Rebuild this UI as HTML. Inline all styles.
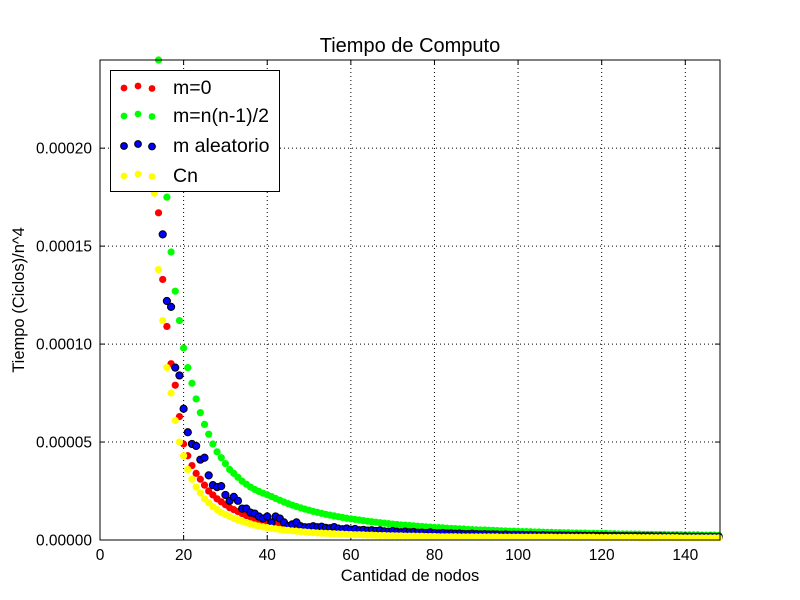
<!DOCTYPE html>
<html><head><meta charset="utf-8"><style>
body{margin:0;background:#fff}
svg{display:block;font-family:"Liberation Sans",sans-serif}
</style></head><body>
<svg id="chart" width="800" height="600" xmlns="http://www.w3.org/2000/svg"></svg>
<script>
const nStart=13;
const redVals=[195,167,133,109,90,79,63,49,43,38,34,31,28,25,23,21,19.5,18,16.5,15.5,14.5,13.5,12.5,11.8,11,10.4,9.8,9.3,
8.8,8.4,8,7.7,7.4,7.1,6.8,6.5,6.3,6.1,5.9,5.7,5.5,5.3,5.1,5,4.8,4.7,4.6,4.4,4.3,4.2,4.1,4,3.9,3.8,3.7,3.6,3.5,3.4,3.4,3.3,3.2,3.2,3.1,3,3,2.9,2.9,2.8,2.8,2.7,2.7,2.6,2.6,2.5,2.5,2.5,2.4,2.4,2.4,2.3,2.3,2.3,2.2,2.2,2.2,2.1,2.1,2.1,
2,2,2,2,2,2,2,2,1.9,1.9,1.9,1.9,1.9,1.9,1.9,1.9,1.8,1.8,1.8,1.8,1.8,1.8,1.8,1.8,1.7,1.7,1.7,1.7,1.7,1.7,1.7,1.7,1.6,1.6,1.6,1.6,1.6,1.6,1.6,1.6,1.5,1.5,1.5,1.5,1.5,1.5,1.5,1.5];
const greenVals=[280,245,205,175,147,127,112,98,88,80,72,65,59,54,49,45,42,39,36,34,32,30,28.5,27,25.8,24.8,23.9,23.1,
22.2,21.2,20.3,19.4,18.6,17.8,17.1,16.4,15.8,15.2,14.6,14.1,13.6,13.1,12.7,12.3,11.9,11.5,11.1,10.8,10.5,10.2,9.9,9.6,9.3,9.1,8.8,8.6,8.4,8.1,7.9,7.7,7.6,7.4,7.2,7.0,6.9,6.7,6.6,6.4,6.3,6.2,6.0,5.9,5.8,5.7,5.6,5.4,5.3,5.2,5.1,5.1,5.0,4.9,4.8,4.7,4.6,4.5,4.5,4.4,4.3,4.3,4.2,4.1,4.1,4.0,3.9,3.9,3.8,3.8,3.7,3.7,3.6,3.6,3.5,3.5,3.4,3.4,3.3,3.3,3.3,3.2,3.2,3.1,3.1,3.1,3.0,3.0,3.0,2.9,2.9,2.9,2.8,2.8,2.8,2.7,2.7,2.7,2.7,2.6,2.6,2.6,2.6,2.5,2.5,2.5,2.5,2.4];
const blueVals=[203,200,156,122,119,88,84,67,55,49,48,41,42,33,28,27,27.5,23,20,22,20,16,16,14,13.5,12,11,12,9,12,11,9,7,8,9,7,6.5,6.5,
7.0,6.5,6.8,6.2,6.0,6.6,5.8,5.5,5.9,5.3,5.6,5.0,5.2,4.8,5.0,4.6,4.9,4.4,4.3,4.6,4.2,4.0,4.3,3.9,4.1,3.7,3.8,3.6,3.9,3.5,3.4,3.6,3.3,3.4,3.2,3.3,3.1,3.0,3.2,3.0,2.9,3.0,2.8,2.9,2.8,2.7,2.8,2.6,2.7,2.6,
2.6,2.5,2.6,2.5,2.4,2.5,2.4,2.4,2.3,2.4,2.3,2.3,2.2,2.3,2.2,2.2,2.1,2.2,2.1,2.1,2.1,2.0,2.1,2.0,2.0,2.0,1.9,2.0,1.9,1.9,1.9,1.9,1.8,1.9,1.8,1.8,1.8,1.8,1.7,1.8,1.7,1.7,1.7,1.7,1.6,1.7,1.6,1.6];
const yellowVals=[177,138,112,88,75,61,50,43,36,31,27,24,21,19,17,15.5,14,13,12,11,10.2,9.5,8.8,8.2,7.6,7.1,6.7,6.3,
6.0,5.7,5.4,5.1,4.9,4.7,4.5,4.3,4.1,3.9,3.8,3.6,3.5,3.4,3.3,3.2,3.1,3.0,2.9,2.8,2.7,2.7,2.6,2.5,2.5,2.4,2.3,2.3,2.2,2.2,2.1,2.1,2.0,2.0,2.0,1.9,1.9,1.8,1.8,1.8,1.7,1.7,1.7,1.7,1.7,1.6,1.6,1.6,1.6,1.6,1.6,1.6,1.6,1.6,1.6,1.5,1.5,1.5,1.5,1.5,
1.5,1.5,1.5,1.5,1.5,1.5,1.5,1.5,1.4,1.4,1.4,1.4,1.4,1.4,1.4,1.4,1.4,1.4,1.3,1.3,1.3,1.3,1.3,1.3,1.3,1.3,1.3,1.3,1.2,1.2,1.2,1.2,1.2,1.2,1.2,1.2,1.2,1.2,1.1,1.1,1.1,1.1,1.1,1.1,1.1,1.1,1.1,1.1];
const xTicks=[0,20,40,60,80,100,120,140];
const yTicks=[0,0.00005,0.0001,0.00015,0.0002];
const yTickLabels=["0.00000","0.00005","0.00010","0.00015","0.00020"];
const seriesNames=["m=0","m=n(n-1)/2","m aleatorio","Cn"];

const L=100,R=720,T=60,B=540,XMAX=148.3,YMAX=0.000245;
const sx=v=>L+v/XMAX*(R-L);
const sy=v=>B-v/YMAX*(B-T);
const NS="http://www.w3.org/2000/svg";
const svg=document.getElementById('chart');
function mk(tag,attrs,parent){const e=document.createElementNS(NS,tag);for(const k in attrs)e.setAttribute(k,attrs[k]);(parent||svg).appendChild(e);return e;}

mk('rect',{x:0,y:0,width:800,height:600,fill:'#fff'});
const defs=mk('defs',{});
const cp=mk('clipPath',{id:'clip'},defs);
mk('rect',{x:L,y:T,width:R-L,height:B-T},cp);

const grid=mk('g',{});


xTicks.forEach(t=>{
  if(t>0) mk('line',{x1:sx(t),x2:sx(t),y1:T,y2:B,stroke:'#000','stroke-dasharray':'1,3','stroke-width':1},grid);
  mk('line',{x1:sx(t),x2:sx(t),y1:B,y2:B-5,stroke:'#000'},grid);
  mk('line',{x1:sx(t),x2:sx(t),y1:T,y2:T+5,stroke:'#000'},grid);
  const tx=mk('text',{x:sx(t),y:B+20,'text-anchor':'middle','font-size':15.5});
  
  
  tx.textContent=t;
});
yTicks.forEach((t,i)=>{
  if(t>0) mk('line',{x1:L,x2:R,y1:sy(t),y2:sy(t),stroke:'#000','stroke-dasharray':'1,3','stroke-width':1},grid);
  mk('line',{x1:L,x2:L+5,y1:sy(t),y2:sy(t),stroke:'#000'},grid);
  mk('line',{x1:R,x2:R-5,y1:sy(t),y2:sy(t),stroke:'#000'},grid);
  const tx=mk('text',{x:L-8,y:sy(t)+5.5,'text-anchor':'end','font-size':15.5});
  
  
  tx.textContent=yTickLabels[i];
});

const series=[[redVals,'#ff0000','none'],[greenVals,'#00ff00','none'],[blueVals,'#0000ff','#000'],[yellowVals,'#ffff00','none']];
const names=['series-m0','series-m-max','series-m-random','series-cn'];
const pts=mk('g',{'clip-path':'url(#clip)'});
series.forEach((s,si)=>{
  const g=mk('g',{},pts);
  
  
  s[0].forEach((v,i)=>{
    const c=mk('circle',{cx:sx(nStart+i),cy:sy(v*1e-6),r:3.6,fill:s[1],stroke:s[2],'stroke-width':1});
    
    
  });
});

mk('rect',{x:L,y:T,width:R-L,height:B-T,fill:'none',stroke:'#000','stroke-width':1});

const leg=mk('g',{});


mk('rect',{x:110.5,y:70.5,width:169,height:121,fill:'#fff',stroke:'#000','stroke-width':1},leg);
const rowsY=[87,115,145,175];
series.forEach((s,i)=>{
  const e=mk('g',{},leg);
  
  
  [[124,1],[138,-1],[152,1.5]].forEach(p=>mk('circle',{cx:p[0],cy:rowsY[i]+p[1],r:3.4,fill:s[1],stroke:s[2],'stroke-width':1},e));
  const t=mk('text',{x:173,y:rowsY[i]+7,'font-size':19.5},e);
  t.textContent=seriesNames[i];
});

const title=mk('text',{x:410,y:52,'text-anchor':'middle','font-size':20});


title.textContent='Tiempo de Computo';
const xl=mk('text',{x:410,y:581,'text-anchor':'middle','font-size':16.5});


xl.textContent='Cantidad de nodos';
const yl=mk('text',{x:0,y:0,'text-anchor':'middle','font-size':16.5,transform:'translate(24,300) rotate(-90)'});


yl.textContent='Tiempo (Ciclos)/n^4';
</script>
</body></html>
